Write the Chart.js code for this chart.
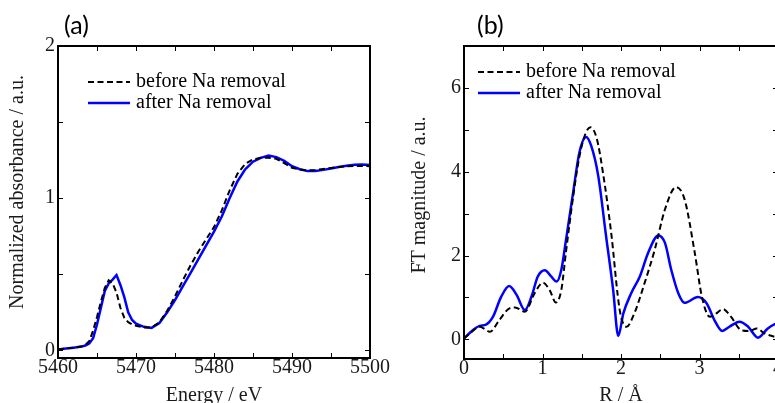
<!DOCTYPE html>
<html><head><meta charset="utf-8">
<script src="https://cdn.jsdelivr.net/npm/chart.js@4.4.1/dist/chart.umd.min.js"></script>
<style>
html,body{margin:0;padding:0;background:#fff;width:775px;height:403px;overflow:hidden;position:relative;}
#ca{position:absolute;left:0;top:0;}
#cb{position:absolute;left:385px;top:0;}
</style></head><body>
<canvas id="ca" width="395" height="420"></canvas>
<canvas id="cb" width="400" height="420"></canvas>
<script>
// ---------- Panel (a): XANES ----------
const energy = [5460,5461,5462,5463,5463.5,5464,5464.5,5465,5465.5,5466,5466.5,5467,5467.5,5468,5468.5,5469,5469.5,5470,
  5471,5472,5473,5474,5475,5476,5477,5478,5479,5480,5481,5482,5483,5484,5485,5486,5487,5488,5489,5490,
  5491,5492,5493,5494,5495,5496,5497,5498,5499,5500];
const absBefore = [0.005,0.012,0.018,0.025,0.035,0.06,0.13,0.22,0.32,0.41,0.46,0.44,0.38,0.28,0.215,0.185,0.17,0.162,
  0.15,0.15,0.185,0.26,0.355,0.46,0.56,0.65,0.73,0.81,0.92,1.05,1.16,1.225,1.255,1.265,1.265,1.259,1.23,1.20,
  1.188,1.183,1.186,1.192,1.198,1.205,1.21,1.212,1.212,1.21];
const absAfter = [0.005,0.012,0.018,0.025,0.032,0.045,0.08,0.17,0.28,0.39,0.44,0.465,0.495,0.43,0.35,0.25,0.20,0.175,
  0.155,0.148,0.18,0.25,0.33,0.42,0.51,0.60,0.69,0.78,0.88,1.00,1.11,1.19,1.24,1.265,1.28,1.27,1.245,1.21,
  1.19,1.178,1.178,1.186,1.195,1.205,1.213,1.22,1.222,1.218];
const energyTicks = [5460,5470,5480,5490,5500];
const energyMinor = [5465,5475,5485,5495];
const absTicks = [0,1,2];
const absMinor = [0.5,1.5];

// ---------- Panel (b): FT-EXAFS ----------
const rBefore = [0,0.10,0.20,0.27,0.33,0.45,0.58,0.65,0.775,0.90,1.005,1.09,1.17,1.24,1.30,1.39,1.47,1.55,1.61,1.69,1.77,1.88,
  1.96,2.00,2.07,2.17,2.30,2.43,2.56,2.70,2.81,2.94,3.03,3.13,3.20,3.30,3.40,3.53,3.64,3.73,3.83,3.96,4.00];
const ftBefore = [0.02,0.18,0.30,0.24,0.18,0.46,0.74,0.76,0.66,1.10,1.35,1.18,0.88,1.18,2.10,3.40,4.36,4.92,5.06,4.80,3.98,2.46,
  1.02,0.54,0.30,0.62,1.34,2.14,3.10,3.63,3.34,2.06,1.02,0.54,0.60,0.72,0.54,0.22,0.20,0.26,0.14,0.06,0.05];
const rAfter = [0,0.10,0.20,0.28,0.37,0.47,0.575,0.67,0.775,0.86,0.94,1.03,1.11,1.18,1.24,1.30,1.39,1.47,1.555,1.62,1.71,1.81,1.90,
  1.965,2.03,2.13,2.24,2.345,2.475,2.56,2.64,2.73,2.81,2.98,3.09,3.19,3.29,3.38,3.51,3.62,3.745,3.87,3.96,4.00];
const ftAfter = [0.02,0.20,0.32,0.35,0.54,1.00,1.27,1.06,0.70,1.02,1.50,1.65,1.50,1.38,1.66,2.38,3.50,4.46,4.83,4.62,3.90,2.46,1.18,
  0.08,0.62,1.10,1.50,2.06,2.48,2.30,1.66,1.10,0.87,1.01,0.86,0.46,0.20,0.30,0.42,0.30,0.04,0.26,0.36,0.38];
const rTicks = [0,1,2,3,4];
const rMinor = [0.5,1.5,2.5,3.5];
const ftTicks = [0,2,4,6];
const ftMinor = [1,3,5];

const seriesLabels = ['before Na removal','after Na removal'];

const SERIF = "'Liberation Serif', 'Times New Roman', serif";
const TXT = '#1a1a1a';

const framePlugin = {
  id: 'frame',
  afterDraw(chart, args, o) {
    const {ctx, chartArea: a, scales: {x, y}} = chart;
    ctx.save();
    ctx.strokeStyle = '#000';
    ctx.lineWidth = 1;
    const L = 5;
    ctx.beginPath();
    o.xMarks.forEach(v => {
      const p = Math.round(x.getPixelForValue(v)) + 0.5;
      ctx.moveTo(p, a.bottom); ctx.lineTo(p, a.bottom - L);
      ctx.moveTo(p, a.top); ctx.lineTo(p, a.top + L);
    });
    o.yMarks.forEach(v => {
      const p = Math.round(y.getPixelForValue(v)) + 0.5;
      ctx.moveTo(a.left, p); ctx.lineTo(a.left + L, p);
      ctx.moveTo(a.right, p); ctx.lineTo(a.right - L, p);
    });
    ctx.stroke();
    ctx.lineWidth = 2;
    ctx.strokeRect(a.left, a.top, a.right - a.left, a.bottom - a.top);

    // legend inside plot
    chart.data.datasets.forEach((ds, i) => {
      const ly = o.legY + i * o.legGap;
      ctx.beginPath();
      ctx.lineWidth = ds.borderWidth;
      ctx.strokeStyle = ds.borderColor;
      ctx.setLineDash(ds.borderDash || []);
      ctx.moveTo(o.legX, ly); ctx.lineTo(o.legX + o.legLen, ly);
      ctx.stroke();
      ctx.setLineDash([]);
      ctx.fillStyle = '#000';
      ctx.font = '20px ' + SERIF;
      ctx.textBaseline = 'middle';
      ctx.textAlign = 'left';
      ctx.fillText(ds.label, o.legX + o.legLen + 6, ly);
    });

    // panel label
    ctx.fillStyle = '#000';
    ctx.font = "25px Lato, 'Open Sans', sans-serif";
    ctx.textBaseline = 'alphabetic';
    ctx.textAlign = 'left';
    ctx.fillText(o.panel, o.panelX, o.panelY);
    ctx.restore();
  }
};

function makeChart(id, cfg) {
  const datasets = [
    {label: seriesLabels[0], data: cfg.xb.map((v, i) => ({x: v, y: cfg.yb[i]})),
     borderColor: '#000', borderWidth: 2, borderDash: [6, 3.5], pointRadius: 0, fill: false,
     tension: 0, cubicInterpolationMode: cfg.cubic},
    {label: seriesLabels[1], data: cfg.xa.map((v, i) => ({x: v, y: cfg.ya[i]})),
     borderColor: '#0000ff', borderWidth: 2.5, pointRadius: 0, fill: false,
     tension: 0, cubicInterpolationMode: cfg.cubic}
  ];
  return new Chart(document.getElementById(id), {
    type: 'line',
    data: {datasets},
    options: {
      responsive: false, animation: false, events: [],
      layout: {padding: {left: 0, top: 46, right: cfg.padRight, bottom: 0}},
      plugins: {
        legend: {display: false}, tooltip: {enabled: false},
        frame: {xMarks: cfg.xTicks.concat(cfg.xMinor), yMarks: cfg.yTicks.concat(cfg.yMinor),
                legX: cfg.legX, legY: cfg.legY, legGap: 21, legLen: 42,
                panel: cfg.panel, panelX: cfg.panelX, panelY: 34}
      },
      scales: {
        x: {
          type: 'linear', min: cfg.xMin, max: cfg.xMax,
          grid: {display: false, drawTicks: false}, border: {display: false},
          afterBuildTicks: s => { s.ticks = cfg.xTicks.map(v => ({value: v})); },
          afterFit: s => { s.height = cfg.xHeight; },
          ticks: {font: {family: SERIF, size: 20, lineHeight: 1}, color: TXT, padding: 0,
                  maxRotation: 0, autoSkip: false, callback: v => String(v)},
          title: {display: true, text: cfg.xTitle, color: TXT,
                  font: {family: SERIF, size: 20}, padding: {top: 0, bottom: 12}}
        },
        y: {
          type: 'linear', min: cfg.yMin, max: cfg.yMax,
          grid: {display: false, drawTicks: false}, border: {display: false},
          afterBuildTicks: s => { s.ticks = cfg.yTicks.map(v => ({value: v})); },
          afterFit: s => { s.width = cfg.yWidth; },
          ticks: {font: {family: SERIF, size: 20, lineHeight: 1}, color: TXT, padding: cfg.yPad,
                  autoSkip: false, callback: v => String(v)},
          title: {display: true, text: cfg.yTitle, color: TXT,
                  font: {family: SERIF, size: 20}, padding: {top: cfg.yTitlePad, bottom: 0}}
        }
      }
    },
    plugins: [framePlugin]
  });
}

makeChart('ca', {
  xb: energy, yb: absBefore, xa: energy, ya: absAfter, cubic: 'default',
  xMin: 5460, xMax: 5500, yMin: -0.05, yMax: 2,
  xTicks: energyTicks, xMinor: energyMinor, yTicks: absTicks, yMinor: absMinor,
  padRight: 25, xHeight: 62, yWidth: 58, yPad: 3, yTitlePad: 6,
  xTitle: 'Energy / eV', yTitle: '    Normalized absorbance / a.u.',
  legX: 88, legY: 82, panel: '(a)', panelX: 64
});

makeChart('cb', {
  xb: rBefore, yb: ftBefore, xa: rAfter, ya: ftAfter, cubic: 'monotone',
  xMin: 0, xMax: 4, yMin: -0.47, yMax: 7,
  xTicks: rTicks, xMinor: rMinor, yTicks: ftTicks, yMinor: ftMinor,
  padRight: 7, xHeight: 61, yWidth: 79, yPad: 3, yTitlePad: 23,
  xTitle: 'R / Å', yTitle: '   FT magnitude / a.u.',
  legX: 93, legY: 72, panel: '(b)', panelX: 92
});
</script>
</body></html>
